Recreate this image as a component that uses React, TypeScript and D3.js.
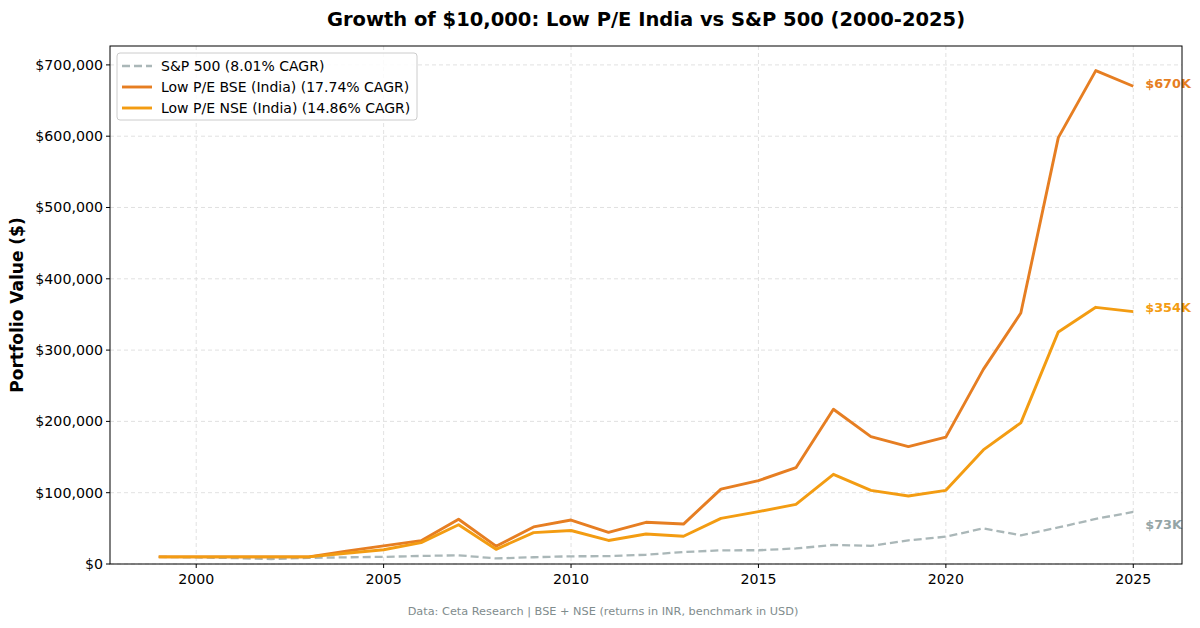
import React from "react";
import * as d3 from "d3";

const years = [1999,2000,2001,2002,2003,2004,2005,2006,2007,2008,2009,2010,2011,2012,2013,2014,2015,2016,2017,2018,2019,2020,2021,2022,2023,2024,2025];
const bse = [10000,10000,10000,10000,10000,18000,25500,32700,62700,25000,52000,61700,44400,58500,56000,105000,117000,135000,217000,178600,164600,178000,273000,352000,598000,692000,670000];
const nse = [10000,10000,10000,10000,10000,15000,20000,30000,55000,20600,44000,47000,33000,42000,39000,64000,73400,83700,125800,103300,95400,103300,160000,198000,325500,360000,354000];
const sp = [10000,9200,8300,7000,8500,9400,10000,11300,12200,7800,9500,10800,11000,13000,16800,19200,19300,21800,26700,25500,33200,38300,50000,40200,51200,63300,73000];
const yTicks = [0,100000,200000,300000,400000,500000,600000,700000];
const xTicks = [2000,2005,2010,2015,2020,2025];

const series = [
  { name: "S&P 500 (8.01% CAGR)", values: sp, color: "#95a5a6", dash: "8,4", width: 2.3, opacity: 0.8, label: "$73K", dy: 13 },
  { name: "Low P/E BSE (India) (17.74% CAGR)", values: bse, color: "#e67e22", dash: null, width: 2.9, opacity: 1, label: "$670K", dy: -3 },
  { name: "Low P/E NSE (India) (14.86% CAGR)", values: nse, color: "#f39c12", dash: null, width: 2.9, opacity: 1, label: "$354K", dy: -4 },
];

export default function App() {
  const W = 1200, H = 628;
  const L = 110, R = 1182, T = 46, B = 564;
  const x = d3.scaleLinear().domain([1997.7, 2026.3]).range([L, R]);
  const y = d3.scaleLinear().domain([0, 726500]).range([B, T]);
  const font = "DejaVu Sans, sans-serif";
  const fmt = (v: number) => "$" + d3.format(",")(v);
  return (
    <svg width={W} height={H} style={{ position: "absolute", left: 0, top: 0, background: "#fff" }} fontFamily={font}>
      <rect x={0} y={0} width={W} height={H} fill="#fff" />
      <text x={(L + R) / 2 + 0} y={26} textAnchor="middle" fontSize={19.5} fontWeight="bold">Growth of $10,000: Low P/E India vs S&amp;P 500 (2000-2025)</text>
      {yTicks.map(t => (
        <g key={"y" + t}>
          <line x1={L} x2={R} y1={y(t)} y2={y(t)} stroke="#d9d9d9" strokeDasharray="4,3" strokeWidth={0.8} />
          <line x1={L - 4} x2={L} y1={y(t)} y2={y(t)} stroke="#000" />
          <text x={L - 7} y={y(t)} dy="0.35em" textAnchor="end" fontSize={14.2}>{fmt(t)}</text>
        </g>
      ))}
      {xTicks.map(t => (
        <g key={"x" + t}>
          <line x1={x(t)} x2={x(t)} y1={T} y2={B} stroke="#d9d9d9" strokeDasharray="4,3" strokeWidth={0.8} />
          <line x1={x(t)} x2={x(t)} y1={B} y2={B + 4} stroke="#000" />
          <text x={x(t)} y={B + 20} textAnchor="middle" fontSize={14.2}>{t}</text>
        </g>
      ))}
      {series.map(s => {
        const line = d3.line<number>().x((_, i) => x(years[i])).y(v => y(v));
        const last = s.values[s.values.length - 1];
        return (
          <g key={s.name}>
            <path d={line(s.values) || ""} fill="none" stroke={s.color} strokeOpacity={s.opacity} strokeWidth={s.width} strokeDasharray={s.dash || undefined} strokeLinejoin="round" />
            <text x={x(years[years.length - 1]) + 12} y={y(last) + s.dy} dy="0.35em" fontSize={12.8} fontWeight="bold" fill={s.color}>{s.label}</text>
          </g>
        );
      })}
      <rect x={L} y={T} width={R - L} height={B - T} fill="none" stroke="#000" strokeWidth={1} />
      <g>
        <rect x={117} y={53} width={300} height={67} rx={3} fill="#fff" fillOpacity={0.85} stroke="#ccc" />
        {series.map((s, i) => (
          <g key={"lg" + i}>
            <line x1={122} x2={152} y1={66 + i * 21} y2={66 + i * 21} stroke={s.color} strokeOpacity={s.opacity} strokeWidth={s.width} strokeDasharray={s.dash || undefined} />
            <text x={161} y={66 + i * 21} dy="0.35em" fontSize={14}>{s.name}</text>
          </g>
        ))}
      </g>
      <text transform={`translate(23,${(T + B) / 2}) rotate(-90)`} textAnchor="middle" fontSize={17} fontWeight="bold">Portfolio Value ($)</text>
      <text x={603} y={615} textAnchor="middle" fontSize={11.3} fill="#7f8c8d">Data: Ceta Research | BSE + NSE (returns in INR, benchmark in USD)</text>
    </svg>
  );
}
